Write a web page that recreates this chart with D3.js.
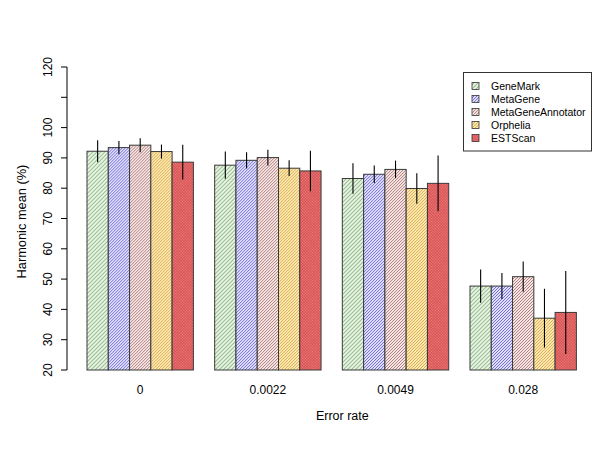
<!DOCTYPE html>
<html><head><meta charset="utf-8">
<script src="https://cdnjs.cloudflare.com/ajax/libs/d3/7.8.5/d3.min.js"></script>
<style>body{margin:0;background:#fff}svg{display:block}text{font-family:"Liberation Sans",Arial,sans-serif;fill:#000}</style>
</head><body>
<script>
const categories = ["0", "0.0022", "0.0049", "0.028"];
const seriesNames = ["GeneMark", "MetaGene", "MetaGeneAnnotator", "Orphelia", "ESTScan"];
const GeneMark = [92.2, 87.6, 83.2, 47.7];
const MetaGene = [93.4, 89.2, 84.6, 47.7];
const MetaGeneAnnotator = [94.2, 90.1, 86.2, 50.8];
const Orphelia = [92.1, 86.6, 79.9, 37.1];
const ESTScan = [88.6, 85.7, 81.6, 39.0];
const GeneMarkErr = [3.6, 4.5, 5.0, 5.5];
const MetaGeneErr = [2.2, 2.7, 2.9, 4.3];
const MetaGeneAnnotatorErr = [2.3, 2.6, 2.9, 5.0];
const OrpheliaErr = [2.3, 2.6, 5.0, 9.7];
const ESTScanErr = [5.7, 6.7, 9.2, 13.7];
const yTicks = [20, 30, 40, 50, 60, 70, 80, 90, 100, 110, 120];
const yTickLabels = ["20", "30", "40", "50", "60", "70", "80", "90", "100", "", "120"];

const values = [GeneMark, MetaGene, MetaGeneAnnotator, Orphelia, ESTScan];
const errs = [GeneMarkErr, MetaGeneErr, MetaGeneAnnotatorErr, OrpheliaErr, ESTScanErr];
const styles = [
  {fill:"#e6f6df", line:"#58845a", w:2.83, cross:false},
  {fill:"#e2e0fc", line:"#4040c4", w:2.12, cross:false},
  {fill:"#f7e6e4", line:"#8e5656", w:2.12, cross:false},
  {fill:"#ffe9a8", line:"#c49448", w:2.12, cross:false},
  {fill:"#f47a7a", line:"#c44444", w:2.0, cross:true}
];

const W = 600, H = 464;
const svg = d3.select("body").append("svg").attr("width", W).attr("height", H);
const defs = svg.append("defs");
styles.forEach((s, i) => {
  const p = defs.append("pattern").attr("id", "pat" + i).attr("patternUnits", "userSpaceOnUse")
    .attr("width", s.w).attr("height", s.w).attr("patternTransform", "rotate(45)");
  p.append("rect").attr("width", s.w).attr("height", s.w).attr("fill", s.fill);
  p.append("line").attr("x1", 0).attr("y1", 0).attr("x2", 0).attr("y2", s.w)
    .attr("stroke", s.line).attr("stroke-width", 1);
  if (s.cross) p.append("line").attr("x1", 0).attr("y1", 0).attr("x2", s.w).attr("y2", 0)
    .attr("stroke", s.line).attr("stroke-width", 1);
});

// x scale in bar units (R barplot, space = c(0,1))
const unit = d3.scaleLinear().domain([1, 19]).range([87, 470]);
const barW = unit(2) - unit(1);
const y = d3.scaleLinear().domain([20, 120]).range([370, 67]);

// y axis
const ax = svg.append("g").attr("transform", "translate(67,0)");
ax.append("line").attr("x1", 0).attr("x2", 0).attr("y1", y(20)).attr("y2", y(120)).attr("stroke", "#000");
yTicks.forEach((t, i) => {
  ax.append("line").attr("x1", 0).attr("x2", -6).attr("y1", y(t)).attr("y2", y(t)).attr("stroke", "#000");
  if (yTickLabels[i]) ax.append("text").attr("transform", `translate(-15,${y(t)}) rotate(-90)`)
    .attr("text-anchor", "middle").attr("font-size", 12).text(yTickLabels[i]);
});
svg.append("text").attr("transform", `translate(26,${y(69)}) rotate(-90)`).attr("text-anchor", "middle")
  .attr("font-size", 12.8).text("Harmonic mean (%)");

// bars
categories.forEach((c, g) => {
  seriesNames.forEach((s, b) => {
    const u = 1 + g * 6 + b;
    const x0 = unit(u);
    const v = values[b][g];
    svg.append("rect").attr("x", x0).attr("y", y(v)).attr("width", barW).attr("height", y(20) - y(v))
      .attr("fill", `url(#pat${b})`).attr("stroke", "#3a3a3a").attr("stroke-width", 1);
  });
  seriesNames.forEach((s, b) => {
    const u = 1 + g * 6 + b;
    const cx = unit(u) + barW / 2;
    const v = values[b][g], e = errs[b][g];
    svg.append("line").attr("x1", cx).attr("x2", cx).attr("y1", y(v + e)).attr("y2", y(v - e))
      .attr("stroke", "#000").attr("stroke-width", 1.1);
  });
  const gc = unit(1 + g * 6) + barW * 2.5;
  svg.append("text").attr("x", gc).attr("y", 394).attr("text-anchor", "middle").attr("font-size", 12).text(c);
});
svg.append("text").attr("x", unit(1) + (unit(24) + barW - unit(1)) / 2).attr("y", 420).attr("text-anchor", "middle")
  .attr("font-size", 12.5).text("Error rate");

// legend
const lg = svg.append("g");
lg.append("rect").attr("x", 463.5).attr("y", 72.5).attr("width", 128).attr("height", 78.5)
  .attr("fill", "#fff").attr("stroke", "#333");
seriesNames.forEach((s, i) => {
  const ly = 86 + i * 13;
  lg.append("rect").attr("x", 472).attr("y", ly - 3.5).attr("width", 7).attr("height", 7)
    .attr("fill", `url(#pat${i})`).attr("stroke", "#333").attr("stroke-width", 0.8);
  lg.append("text").attr("x", 491).attr("y", ly + 4).attr("font-size", 10.5).text(s);
});
</script>
</body></html>
